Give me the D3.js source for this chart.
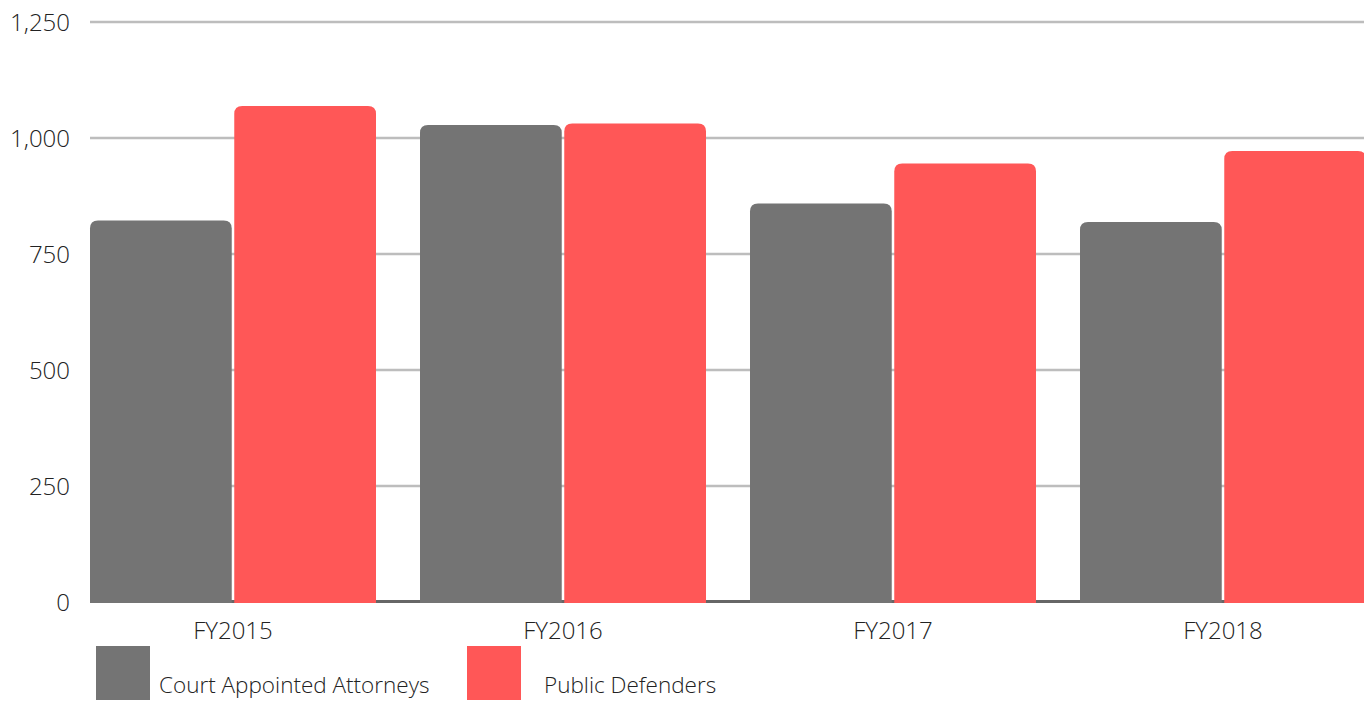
<!DOCTYPE html>
<html>
<head>
<meta charset="utf-8">
<script src="https://cdn.jsdelivr.net/npm/d3@7"></script>
<style>
  html, body { margin: 0; padding: 0; background: #fff; overflow: hidden; }
  text { font-family: "Open Sans", sans-serif; font-weight: 300; fill: #222; }
</style>
</head>
<body>
<svg id="chart" width="1364" height="701"></svg>
<script>
const categories = ["FY2015", "FY2016", "FY2017", "FY2018"];
const seriesNames = ["Court Appointed Attorneys", "Public Defenders"];
const courtAppointed = [822, 1028, 859, 819];
const publicDefenders = [1069, 1031, 945, 972];
const yTicks = [0, 250, 500, 750, 1000, 1250];
const colors = ["#747474", "#FF5757"];

const svg = d3.select("#chart");
const y = d3.scaleLinear().domain([0, 1250]).range([602, 22]);
const x0 = d3.scaleBand().domain(categories).range([90, 1366]).paddingInner(44 / 330).paddingOuter(0);
const x1 = d3.scaleBand().domain(seriesNames).range([0, x0.bandwidth()]).paddingInner(5 / 286);

const yAxis = d3.axisLeft(y).tickValues(yTicks).tickSize(0).tickFormat(d3.format(","));
const gy = svg.append("g").attr("transform", "translate(70,0)").call(yAxis);
gy.select(".domain").remove();
gy.selectAll("text").attr("x", 0).attr("dy", "0.35em").style("font-size", "24px").style("fill", "#222");

svg.append("g").selectAll("line").data(yTicks.filter(d => d > 0)).join("line")
  .attr("x1", 90).attr("x2", 1364)
  .attr("y1", d => Math.round(y(d))).attr("y2", d => Math.round(y(d)))
  .attr("stroke", "#bdbdbd").attr("stroke-width", 2.4);

svg.append("rect").attr("x", 90).attr("y", y(0) - 2).attr("width", 1274).attr("height", 3).attr("fill", "#666");

const data = categories.map((c, i) => ({ cat: c, vals: [courtAppointed[i], publicDefenders[i]] }));
const r = 8;
function topRounded(xp, yt, w, yb) {
  const rr = Math.min(r, (yb - yt));
  return `M${xp},${yb}V${yt + rr}Q${xp},${yt} ${xp + rr},${yt}H${xp + w - rr}Q${xp + w},${yt} ${xp + w},${yt + rr}V${yb}Z`;
}
const groups = svg.append("g").selectAll("g").data(data).join("g")
  .attr("transform", d => `translate(${x0(d.cat)},0)`);
groups.selectAll("path").data(d => d.vals.map((v, j) => ({ v, s: seriesNames[j], j }))).join("path")
  .attr("d", d => topRounded(x1(d.s), y(d.v), x1.bandwidth(), y(0) + 1))
  .attr("fill", d => colors[d.j]);

const xAxis = d3.axisBottom(x0).tickSize(0);
const gx = svg.append("g").attr("transform", `translate(0,${y(0)})`).call(xAxis);
gx.select(".domain").remove();
gx.selectAll("text").attr("y", 0).attr("dy", "37px").style("font-size", "24px").style("fill", "#222");

const legendX = [96, 467];
const legendTextX = [159, 544];
const lg = svg.append("g");
seriesNames.forEach((s, i) => {
  lg.append("rect").attr("x", legendX[i]).attr("y", 646).attr("width", 54).attr("height", 54).attr("fill", colors[i]);
  lg.append("text").attr("x", legendTextX[i]).attr("y", 693).text(s).style("font-size", "22.5px").style("fill", "#222");
});
</script>
</body>
</html>
